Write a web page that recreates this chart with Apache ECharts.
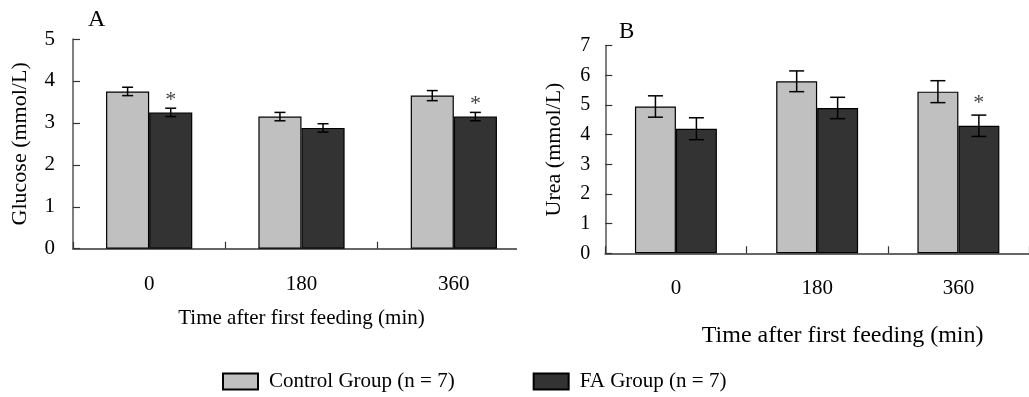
<!DOCTYPE html>
<html><head><meta charset="utf-8">
<script src="https://cdn.jsdelivr.net/npm/echarts@6/dist/echarts.min.js"></script>
<style>html,body{margin:0;padding:0;background:#fff}#c{width:1029px;height:397px}</style>
</head><body><div id="c"></div>
<script>
// ---- data ----
const categories = ['0', '180', '360'];
const seriesNames = ['Control Group (n = 7)', 'FA Group (n = 7)'];
const glucoseControl = [3.75, 3.15, 3.65];
const glucoseControlErr = [0.10, 0.10, 0.12];
const glucoseFA = [3.25, 2.88, 3.15];
const glucoseFAErr = [0.10, 0.10, 0.10];
const glucoseMarks = ['*', '', '*'];
const ureaControl = [4.95, 5.80, 5.45];
const ureaControlErr = [0.36, 0.35, 0.37];
const ureaFA = [4.20, 4.90, 4.30];
const ureaFAErr = [0.37, 0.36, 0.36];
const ureaMarks = ['', '', '*'];
const glucoseAxisMax = 5;
const ureaAxisMax = 7;
const panelLetters = ['A', 'B'];
const xTitle = 'Time after first feeding (min)';
const yTitles = ['Glucose (mmol/L)', 'Urea (mmol/L)'];

const FONT = "'Liberation Serif', 'Times New Roman', serif";
const BAR_FRAC = [0.283, 0.29];
const CAP = [11, 15];

function errRender(side, frac, cap, marks, starOffset) {
  return function (params, api) {
    const idx = api.value(0), v = api.value(1), e = api.value(2);
    const band = api.size([1, 0])[0];
    const bw = band * frac;
    const c = api.coord([idx, v]);
    const x = c[0] + side * bw / 2;
    const yt = api.coord([idx, v + e])[1];
    const yb = api.coord([idx, v - e])[1];
    const st = { stroke: '#000', lineWidth: 1.5 };
    const children = [
      { type: 'line', shape: { x1: x, y1: yt, x2: x, y2: yb }, style: st },
      { type: 'line', shape: { x1: x - cap / 2, y1: yt, x2: x + cap / 2, y2: yt }, style: st },
      { type: 'line', shape: { x1: x - cap / 2, y1: yb, x2: x + cap / 2, y2: yb }, style: st }
    ];
    if (marks && marks[idx]) {
      children.push({
        type: 'text',
        style: { text: marks[idx], x: x, y: yt - starOffset, align: 'center', verticalAlign: 'middle',
                 font: '22px ' + FONT, fill: '#444' }
      });
    }
    return { type: 'group', children: children };
  };
}

function toErrData(vals, errs) {
  return vals.map((v, i) => [i, v, errs[i]]);
}

const chart = echarts.init(document.getElementById('c'), null, { renderer: 'canvas' });

const axisLineStyle = { color: '#555', width: 1.5 };

function xAxisDef(gi, nameGap, nameSize, padLeft) {
  return {
    type: 'category', gridIndex: gi, data: categories,
    boundaryGap: true,
    axisLine: { show: true, lineStyle: { color: '#666', width: 2 } },
    axisTick: { show: true, inside: true, length: 7, alignWithLabel: false, lineStyle: { color: '#333', width: 1.2 } },
    axisLabel: { margin: 25, fontSize: 21, fontFamily: FONT, color: '#000' },
    name: xTitle, nameLocation: 'middle', nameGap: nameGap,
    nameTextStyle: { fontSize: nameSize, fontFamily: FONT, color: '#000', padding: [0, 0, 0, padLeft] },
    splitLine: { show: false }
  };
}
function yAxisDef(gi, max, name, nameGap, labelSize, margin) {
  return {
    type: 'value', gridIndex: gi, min: 0, max: max, interval: 1,
    axisLine: { show: true, lineStyle: axisLineStyle },
    axisTick: { show: true, inside: true, length: 7, lineStyle: { color: '#333', width: 1.2 } },
    axisLabel: { margin: margin, fontSize: labelSize, fontFamily: FONT, color: '#000' },
    splitLine: { show: false },
    name: name, nameLocation: 'middle', nameGap: nameGap, nameRotate: 90,
    nameTextStyle: { fontSize: 22, fontFamily: FONT, color: '#000' }
  };
}

const option = {
  animation: false,
  backgroundColor: '#fff',
  grid: [
    { left: 73, top: 39, width: 457, height: 209.7, containLabel: false },
    { left: 605.3, top: 45.7, width: 424.1, height: 207.6, containLabel: false }
  ],
  xAxis: [xAxisDef(0, 59, 21, 0), xAxisDef(1, 70, 24, 51)],
  yAxis: [
    yAxisDef(0, glucoseAxisMax, yTitles[0], 42, 21, 18),
    yAxisDef(1, ureaAxisMax, yTitles[1], 40, 20, 15)
  ],
  legend: {
    data: seriesNames,
    left: 217, top: 366,
    itemWidth: 35, itemHeight: 16, itemGap: 78,
    icon: 'rect',
    itemStyle: { borderColor: '#000', borderWidth: 2 },
    textStyle: { fontSize: 21, fontFamily: FONT, color: '#000', padding: [0, 0, 0, 6] }
  },
  graphic: [
    { type: 'text', left: 88, top: 8, style: { text: panelLetters[0], font: '24px ' + FONT, fill: '#000' } },
    { type: 'text', left: 619, top: 20, style: { text: panelLetters[1], font: '23px ' + FONT, fill: '#000' } },
    { type: 'rect', shape: { x: 517, y: 238, width: 16, height: 14 }, style: { fill: '#fff' }, z: 100 }
  ],
  series: [
    { name: seriesNames[0], type: 'bar', xAxisIndex: 0, yAxisIndex: 0, data: glucoseControl,
      barWidth: (BAR_FRAC[0] * 100) + '%', barGap: '0%',
      itemStyle: { color: '#c0c0c0', borderColor: '#000', borderWidth: 1.2 } },
    { name: seriesNames[1], type: 'bar', xAxisIndex: 0, yAxisIndex: 0, data: glucoseFA,
      barWidth: (BAR_FRAC[0] * 100) + '%', barGap: '0%',
      itemStyle: { color: '#333333', borderColor: '#000', borderWidth: 1.2 } },
    { name: seriesNames[0], type: 'bar', xAxisIndex: 1, yAxisIndex: 1, data: ureaControl,
      barWidth: (BAR_FRAC[1] * 100) + '%', barGap: '0%',
      itemStyle: { color: '#c0c0c0', borderColor: '#000', borderWidth: 1.2 } },
    { name: seriesNames[1], type: 'bar', xAxisIndex: 1, yAxisIndex: 1, data: ureaFA,
      barWidth: (BAR_FRAC[1] * 100) + '%', barGap: '0%',
      itemStyle: { color: '#333333', borderColor: '#000', borderWidth: 1.2 } },
    { type: 'custom', xAxisIndex: 0, yAxisIndex: 0, encode: { x: 0, y: 1 }, z: 5,
      renderItem: errRender(-1, BAR_FRAC[0], CAP[0], null, 0), data: toErrData(glucoseControl, glucoseControlErr) },
    { type: 'custom', xAxisIndex: 0, yAxisIndex: 0, encode: { x: 0, y: 1 }, z: 5,
      renderItem: errRender(1, BAR_FRAC[0], CAP[0], glucoseMarks, 8), data: toErrData(glucoseFA, glucoseFAErr) },
    { type: 'custom', xAxisIndex: 1, yAxisIndex: 1, encode: { x: 0, y: 1 }, z: 5,
      renderItem: errRender(-1, BAR_FRAC[1], CAP[1], null, 0), data: toErrData(ureaControl, ureaControlErr) },
    { type: 'custom', xAxisIndex: 1, yAxisIndex: 1, encode: { x: 0, y: 1 }, z: 5,
      renderItem: errRender(1, BAR_FRAC[1], CAP[1], ureaMarks, 12), data: toErrData(ureaFA, ureaFAErr) }
  ]
};
chart.setOption(option);
</script>
</body></html>
